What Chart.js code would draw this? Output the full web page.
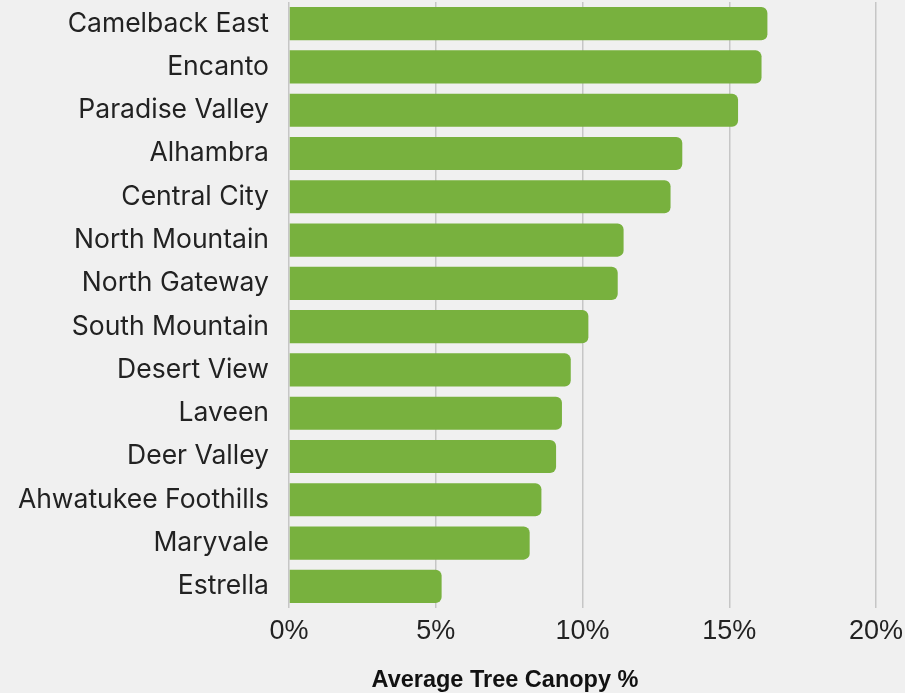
<!DOCTYPE html>
<html>
<head>
<meta charset="utf-8">
<script src="https://cdn.jsdelivr.net/npm/chart.js@4/dist/chart.umd.min.js"></script>
<style>
html,body{margin:0;padding:0;background:#f0f0f0;}
#wrap{width:905px;height:693px;position:relative;}
</style>
</head>
<body>
<div id="wrap"><canvas id="c" width="905" height="693"></canvas></div>
<script>
const categories = ["Camelback East","Encanto","Paradise Valley","Alhambra","Central City","North Mountain","North Gateway","South Mountain","Desert View","Laveen","Deer Valley","Ahwatukee Foothills","Maryvale","Estrella"];
const canopyValues = [16.3,16.1,15.3,13.4,13.0,11.4,11.2,10.2,9.6,9.3,9.1,8.6,8.2,5.2];
const xTicks = [0,5,10,15,20];
const xTitle = "Average Tree Canopy %";

const titlePlugin = {
  id: 'bottomTitle',
  afterDraw(chart) {
    const ctx = chart.ctx;
    ctx.save();
    ctx.font = 'bold 23.5px "Liberation Sans"';
    ctx.fillStyle = '#111';
    ctx.textAlign = 'center';
    ctx.textBaseline = 'middle';
    ctx.fillText(xTitle, 505, 681);
    ctx.restore();
  }
};

new Chart(document.getElementById('c'), {
  type: 'bar',
  data: {
    labels: categories,
    datasets: [{
      data: canopyValues,
      backgroundColor: '#78b13e',
      borderRadius: {topLeft:0,bottomLeft:0,topRight:6,bottomRight:6},
      borderSkipped: false,
      categoryPercentage: 1.0,
      barPercentage: 0.765
    }]
  },
  plugins: [titlePlugin],
  options: {
    indexAxis: 'y',
    responsive: false,
    animation: false,
    layout: {padding: {top: 2, right: 29, left: 0, bottom: 0}},
    plugins: {legend: {display: false}, tooltip: {enabled: false}},
    scales: {
      x: {
        min: 0, max: 20,
        afterBuildTicks: (s) => { s.ticks = xTicks.map(v => ({value: v})); },
        ticks: {
          callback: (v) => v + '%',
          color: '#222',
          font: {family: 'Liberation Sans', size: 27},
          padding: 7,
          maxRotation: 0
        },
        grid: {color: '#c6c6c6', lineWidth: 1.5, drawTicks: false},
        border: {display: false},
        afterFit: (s) => { s.height = 85; s.paddingLeft = 0; s.paddingRight = 0; }
      },
      y: {
        ticks: {color: '#222', font: {family: 'Inter', size: 26.5}, padding: 12},
        grid: {display: false},
        border: {display: false},
        afterFit: (s) => { s.width = 289; s.paddingTop = 0; s.paddingBottom = 0; }
      }
    }
  }
});
</script>
</body>
</html>
